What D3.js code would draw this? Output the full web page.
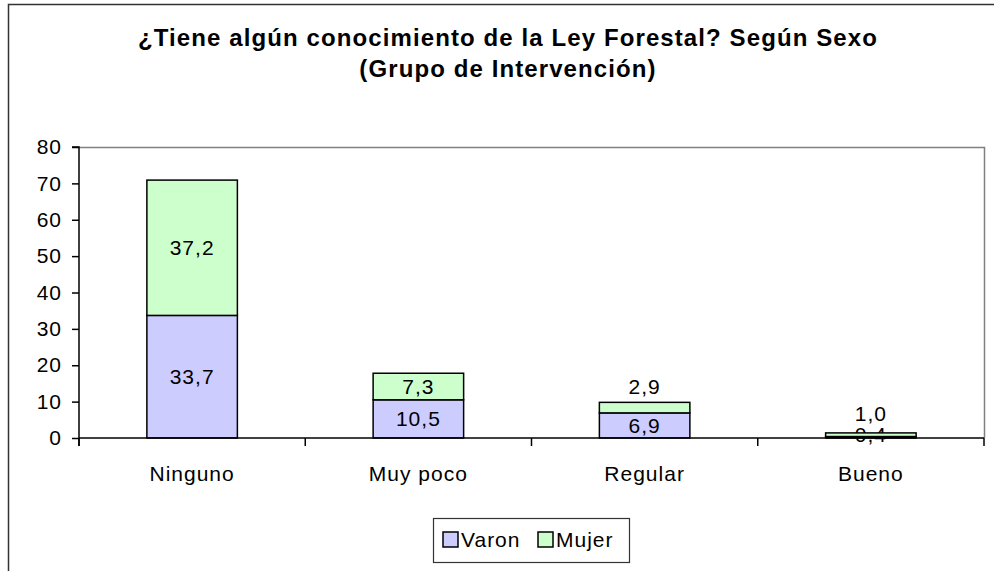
<!DOCTYPE html>
<html>
<head>
<meta charset="utf-8">
<script src="https://cdn.jsdelivr.net/npm/d3@7"></script>
<style>
  body { margin: 0; background: #fff; }
  svg text { font-family: "Liberation Sans", Arial, sans-serif; fill: #000; }
</style>
</head>
<body>
<div id="chart"></div>
<script>
const width = 994;
const height = 571;

// Data
const categories = ["Ninguno", "Muy poco", "Regular", "Bueno"];
const varon = [33.7, 10.5, 6.9, 0.4];
const mujer = [37.2, 7.3, 2.9, 1.0];
const seriesNames = ["Varon", "Mujer"];
const seriesColors = ["#ccccff", "#ccffcc"];
const yTicks = [0, 10, 20, 30, 40, 50, 60, 70, 80];
const titleLines = ["¿Tiene algún conocimiento de la Ley Forestal? Según Sexo", "(Grupo de Intervención)"];

const plot = { left: 79, right: 984, top: 147, bottom: 438 };
const labelFont = "21px";
const labelSpacing = "1px";

const svg = d3.select("#chart")
    .append("svg")
    .attr("width", width)
    .attr("height", height);

// Outer chart border
svg.append("rect")
    .attr("x", 8.5).attr("y", 4.5)
    .attr("width", 1000).attr("height", 600)
    .attr("fill", "none")
    .attr("stroke", "#333")
    .attr("stroke-width", 1.5);

// Title
svg.append("g").selectAll("text")
    .data(titleLines)
    .enter()
    .append("text")
    .attr("x", 508)
    .attr("y", (d, i) => 46 + i * 31)
    .attr("text-anchor", "middle")
    .attr("font-size", "24px")
    .attr("font-weight", "bold")
    .attr("letter-spacing", "1.1px")
    .text(d => d);

const x = d3.scaleBand()
    .domain(categories)
    .range([plot.left, plot.right])
    .paddingInner(0.6)
    .paddingOuter(0.3);

const y = d3.scaleLinear()
    .domain([0, 80])
    .range([plot.bottom, plot.top]);

// Plot area frame (top and right in gray)
svg.append("path")
    .attr("d", `M${plot.left},${plot.top + 0.5}H${plot.right + 0.5}V${plot.bottom}`)
    .attr("fill", "none")
    .attr("stroke", "#808080")
    .attr("stroke-width", 1.5);

// Stack the series
const rows = categories.map((c, i) => ({ cat: c, Varon: varon[i], Mujer: mujer[i] }));
const stacked = d3.stack().keys(seriesNames)(rows);

const groups = svg.append("g")
    .selectAll("g")
    .data(stacked)
    .enter()
    .append("g")
    .attr("fill", (d, i) => seriesColors[i]);

groups.selectAll("rect")
    .data(d => d)
    .enter()
    .append("rect")
    .attr("x", d => x(d.data.cat))
    .attr("width", x.bandwidth())
    .attr("y", d => y(d[1]))
    .attr("height", d => y(d[0]) - y(d[1]))
    .attr("stroke", "#000")
    .attr("stroke-width", 1.5);

// Value labels (small segments: Mujer label is pushed above the bar)
groups.each(function (series) {
    d3.select(this).selectAll("text")
        .data(series)
        .enter()
        .append("text")
        .attr("x", d => x(d.data.cat) + x.bandwidth() / 2)
        .attr("y", d => {
            const mid = (y(d[0]) + y(d[1])) / 2;
            const h = y(d[0]) - y(d[1]);
            if (h < 14 && series.key === "Mujer") return mid - 21;
            if (h < 14) return mid - 3;
            return mid;
        })
        .attr("dy", "0.35em")
        .attr("text-anchor", "middle")
        .attr("font-size", labelFont)
        .attr("letter-spacing", labelSpacing)
        .text(d => d3.format(".1f")(d[1] - d[0]).replace(".", ","));
});

// Y axis
const yAxis = d3.axisLeft(y)
    .tickValues(yTicks)
    .tickSize(7)
    .tickPadding(10);

const yg = svg.append("g")
    .attr("transform", `translate(${plot.left},0)`)
    .call(yAxis);
yg.select(".domain").attr("stroke", "#000").attr("stroke-width", 1.5)
    .attr("d", `M-7,${plot.top}H0V${plot.bottom + 8}`);
yg.selectAll(".tick line").attr("stroke", "#000").attr("stroke-width", 1.5);
yg.selectAll("text")
    .attr("font-size", labelFont)
    .attr("letter-spacing", labelSpacing)
    .attr("font-family", "Liberation Sans, Arial, sans-serif")
    .attr("fill", "#000");

// X axis: ticks between categories
const boundaries = d3.range(categories.length + 1)
    .map(i => plot.left + i * (plot.right - plot.left) / categories.length);

const xg = svg.append("g");
xg.append("line")
    .attr("x1", plot.left).attr("x2", plot.right)
    .attr("y1", plot.bottom).attr("y2", plot.bottom)
    .attr("stroke", "#000").attr("stroke-width", 1.5);
xg.selectAll("line.tick")
    .data(boundaries)
    .enter()
    .append("line")
    .attr("class", "tick")
    .attr("x1", d => d).attr("x2", d => d)
    .attr("y1", plot.bottom).attr("y2", plot.bottom + 8)
    .attr("stroke", "#000").attr("stroke-width", 1.5);
xg.selectAll("text")
    .data(categories)
    .enter()
    .append("text")
    .attr("x", d => x(d) + x.bandwidth() / 2)
    .attr("y", 481)
    .attr("text-anchor", "middle")
    .attr("font-size", labelFont)
    .attr("letter-spacing", labelSpacing)
    .text(d => d);

// Legend
const legend = svg.append("g").attr("transform", "translate(433,518)");
legend.append("rect")
    .attr("x", 0.5).attr("y", 0.5)
    .attr("width", 196).attr("height", 44)
    .attr("fill", "#fff")
    .attr("stroke", "#333")
    .attr("stroke-width", 1.2);

const legendOffsets = [10, 105];
const items = legend.selectAll("g.item")
    .data(seriesNames)
    .enter()
    .append("g")
    .attr("class", "item")
    .attr("transform", (d, i) => `translate(${legendOffsets[i]},14)`);
items.append("rect")
    .attr("width", 15).attr("height", 15)
    .attr("fill", (d, i) => seriesColors[i])
    .attr("stroke", "#000")
    .attr("stroke-width", 1.5);
items.append("text")
    .attr("x", 18)
    .attr("y", 7.5)
    .attr("dy", "0.35em")
    .attr("font-size", labelFont)
    .attr("letter-spacing", labelSpacing)
    .text(d => d);
</script>
</body>
</html>
